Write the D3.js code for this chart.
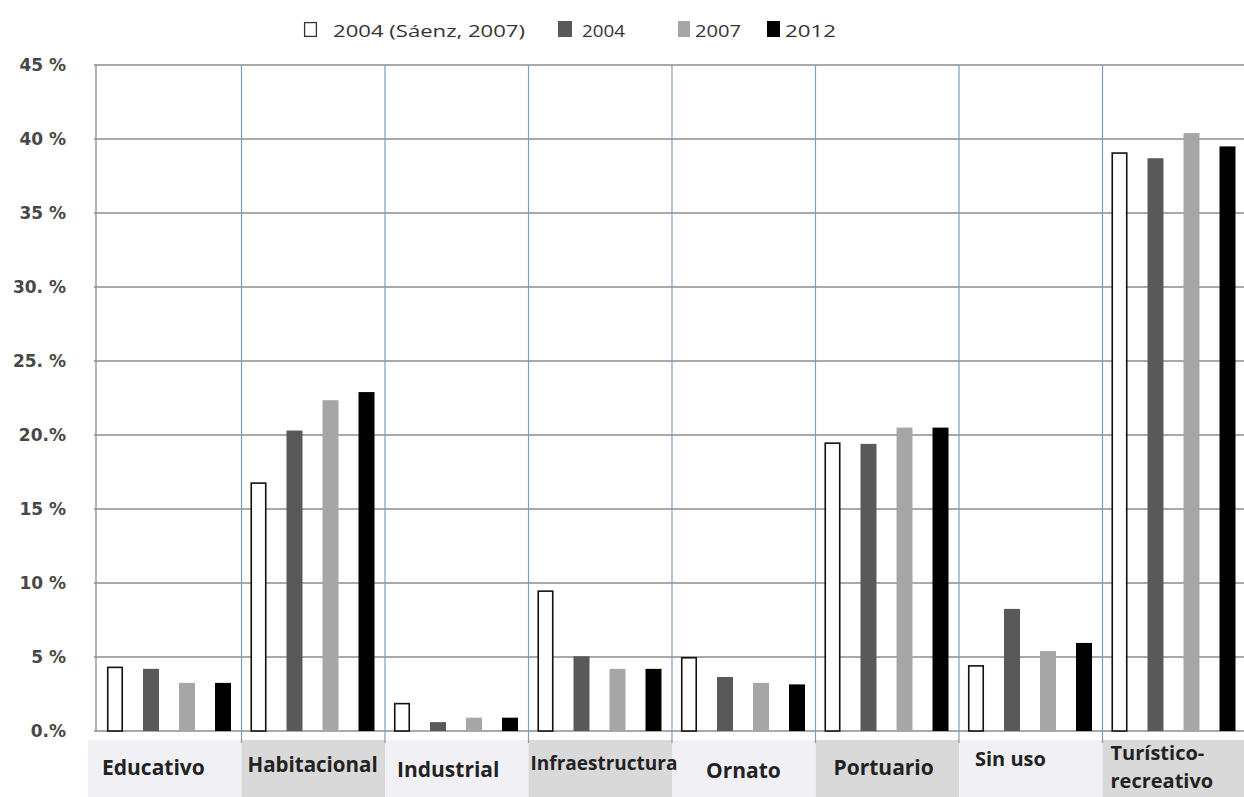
<!DOCTYPE html>
<html>
<head>
<meta charset="utf-8">
<script src="https://cdn.jsdelivr.net/npm/d3@7"></script>
<style>
  html, body { margin: 0; padding: 0; background: #fff; }
  svg { display: block; }
</style>
</head>
<body>
<svg id="chart" width="1244" height="797"></svg>
<script>
// Land-use categories along the waterfront
const categories = ["Educativo", "Habitacional", "Industrial", "Infraestructura",
                    "Ornato", "Portuario", "Sin uso", "Turístico-recreativo"];
const seriesNames = ["2004 (Sáenz, 2007)", "2004", "2007", "2012"];

// Share of each use (%) per series
const saenz2004 = [4.35, 16.8, 1.9, 9.5, 5.0, 19.5, 4.45, 39.1];
const values2004 = [4.2, 20.3, 0.6, 5.05, 3.65, 19.4, 8.25, 38.7];
const values2007 = [3.25, 22.35, 0.9, 4.2, 3.25, 20.5, 5.4, 40.4];
const values2012 = [3.25, 22.9, 0.9, 4.2, 3.15, 20.5, 5.95, 39.5];

const yTickValues = [0, 5, 10, 15, 20, 25, 30, 35, 40, 45];
const yTickLabels = ["0.%", "5 %", "10 %", "15 %", "20.%", "25. %", "30. %", "35 %", "40 %", "45 %"];

const seriesValues = [saenz2004, values2004, values2007, values2012];
const fills = ["#ffffff", "#595959", "#a6a6a6", "#000000"];

const svg = d3.select("#chart");
const plotLeft = 96, plotRight = 1244, plotTop = 65, plotBottom = 731;

const x0 = d3.scaleBand().domain(categories).range([plotLeft, plotRight]).padding(0);
const x1 = d3.scaleBand().domain(d3.range(4)).range([11, 135]).paddingInner(0.556).paddingOuter(0);
const y = d3.scaleLinear().domain([0, 45]).range([plotBottom, plotTop]);

// Horizontal gridlines
svg.append("g").selectAll("line").data(yTickValues).join("line")
  .attr("x1", plotLeft - 2).attr("x2", plotRight)
  .attr("y1", d => y(d)).attr("y2", d => y(d))
  .attr("stroke", "#8c8c8c").attr("stroke-width", 1.3);

// Category label boxes (drawn first so the separators run slightly into them)
const boxFills = ["#f1f1f5", "#d9d9d9"];
svg.append("g").selectAll("rect").data(categories).join("rect")
  .attr("x", (d, i) => i === 0 ? 88 : x0(d) + 2)
  .attr("width", (d, i) => i === 0 ? x0.bandwidth() + (plotLeft - 88) + 2 : x0.bandwidth())
  .attr("y", 740).attr("height", 797 - 740)
  .attr("fill", (d, i) => boxFills[i % 2]);

// Category separators
svg.append("g").selectAll("line").data(categories.slice(1)).join("line")
  .attr("x1", d => x0(d) + 2).attr("x2", d => x0(d) + 2)
  .attr("y1", plotTop).attr("y2", plotBottom + 12)
  .attr("stroke", "#7f9cc0").attr("stroke-width", 1.2);

// Left axis line
svg.append("line")
  .attr("x1", plotLeft).attr("x2", plotLeft).attr("y1", plotTop).attr("y2", plotBottom)
  .attr("stroke", "#8c8c8c").attr("stroke-width", 1.3);

// Y tick labels
svg.append("g").selectAll("text").data(yTickValues).join("text")
  .attr("x", 66).attr("y", d => y(d) + 6)
  .attr("text-anchor", "end")
  .attr("font-family", "'DejaVu Sans', sans-serif")
  .attr("font-weight", 700).attr("font-size", 17)
  .attr("fill", "#484848")
  .text((d, i) => yTickLabels[i]);

// Bars
const groups = svg.append("g").selectAll("g").data(categories).join("g")
  .attr("transform", d => `translate(${x0(d)},0)`);

groups.selectAll("rect")
  .data((c, ci) => seriesValues.map((vals, si) => ({ si, v: vals[ci] })))
  .join("rect")
  .attr("x", d => x1(d.si) + (d.si === 0 ? 0.75 : 0))
  .attr("width", d => x1.bandwidth() - (d.si === 0 ? 1.5 : 0))
  .attr("y", d => y(d.v) + (d.si === 0 ? 0.75 : 0))
  .attr("height", d => plotBottom - y(d.v) - (d.si === 0 ? 0.75 : 0))
  .attr("fill", d => fills[d.si])
  .attr("stroke", d => d.si === 0 ? "#111" : "none")
  .attr("stroke-width", 1.6);

// Category label placement inside each box: [dx from band start, baseline, font size]
const labelLayout = {
  "Educativo": [6, 775, 21],
  "Habitacional": [8, 772, 20.5],
  "Industrial": [14, 777, 21],
  "Infraestructura": [4, 770, 19],
  "Ornato": [36, 778, 21],
  "Portuario": [20, 775, 21],
  "Sin uso": [18, 766, 20],
  "Turístico-recreativo": [10, 760, 20]
};
const lbl = svg.append("g").selectAll("text").data(categories).join("text")
  .attr("x", d => x0(d) + labelLayout[d][0])
  .attr("y", d => labelLayout[d][1])
  .attr("font-family", "'Open Sans', sans-serif")
  .attr("font-weight", 700)
  .attr("font-size", d => labelLayout[d][2])
  .attr("fill", "#222");
lbl.each(function(d) {
  const t = d3.select(this);
  if (d === "Turístico-recreativo") {
    t.append("tspan").attr("x", x0(d) + labelLayout[d][0]).text("Turístico-");
    t.append("tspan").attr("x", x0(d) + labelLayout[d][0]).attr("dy", 28).text("recreativo");
  } else {
    t.text(d);
  }
});

// Legend
const legendItems = [
  { sx: 304, sw: 13, tx: 333, tl: 192 },
  { sx: 558, sw: 14, tx: 582, tl: 43 },
  { sx: 678, sw: 12, tx: 695, tl: 46 },
  { sx: 767, sw: 13, tx: 785, tl: 51 }
];
const leg = svg.append("g").selectAll("g").data(seriesNames).join("g");
leg.append("rect")
  .attr("x", (d, i) => legendItems[i].sx + (i === 0 ? 0.6 : 0))
  .attr("y", (d, i) => i === 0 ? 22.6 : 21)
  .attr("width", (d, i) => legendItems[i].sw - (i === 0 ? 1.2 : 0))
  .attr("height", (d, i) => i === 0 ? 13.8 : 16)
  .attr("fill", (d, i) => fills[i])
  .attr("stroke", (d, i) => i === 0 ? "#333" : "none").attr("stroke-width", 1.3);
leg.append("text")
  .attr("x", (d, i) => legendItems[i].tx).attr("y", 37)
  .attr("font-family", "'Open Sans', sans-serif")
  .attr("font-size", 17).attr("fill", "#333")
  .attr("textLength", (d, i) => legendItems[i].tl)
  .attr("lengthAdjust", "spacingAndGlyphs")
  .text(d => d);
</script>
</body>
</html>
